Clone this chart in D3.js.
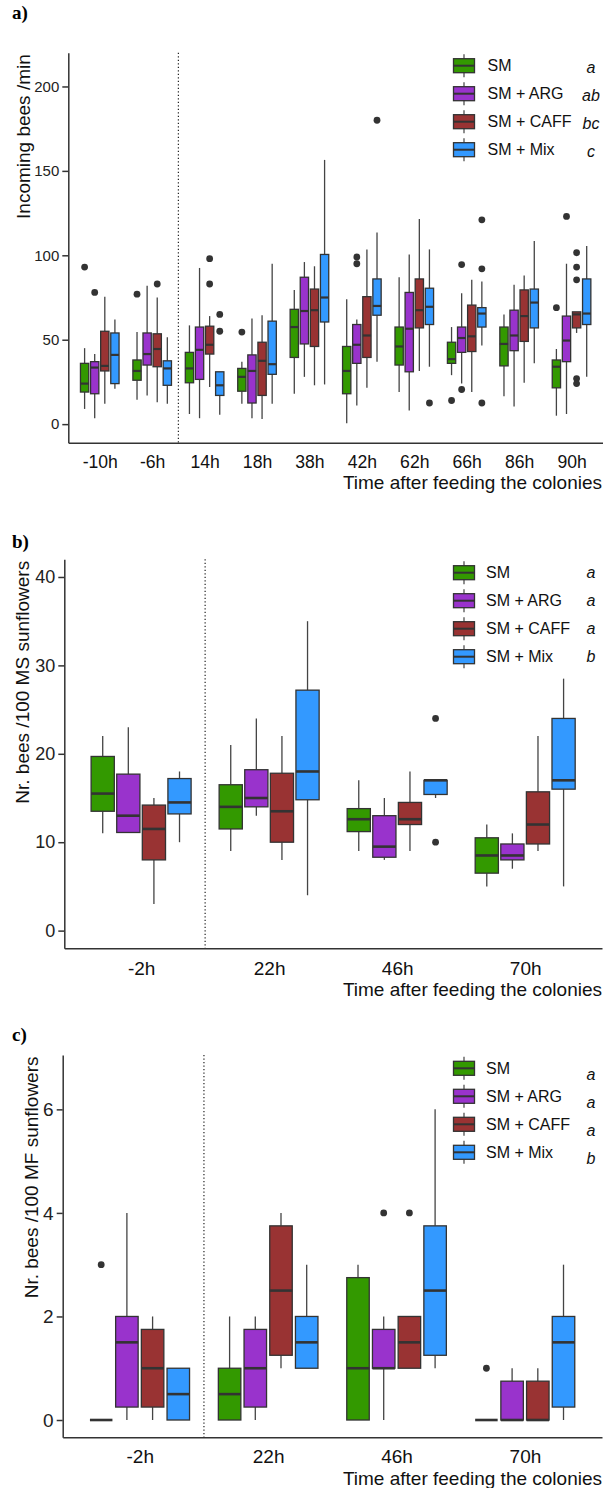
<!DOCTYPE html>
<html>
<head>
<meta charset="utf-8">
<script src="https://cdn.jsdelivr.net/npm/d3@7"></script>
<style>
  body { margin: 0; background: #fff; }
  svg { display: block; font-family: "Liberation Sans", Arial, sans-serif; }
</style>
</head>
<body>
<svg id="fig" width="603" height="1488"></svg>
<script>
var groups = ["SM", "SM + ARG", "SM + CAFF", "SM + Mix"];
var colors = ["#339900", "#9933cc", "#993333", "#3399ff"];

// every box is [low whisker, q1, median, q3, high whisker]
// a) incoming bees /min
var timesA = ["-10h", "-6h", "14h", "18h", "38h", "42h", "62h", "66h", "86h", "90h"];
var lettersA = ["a", "ab", "bc", "c"];
var boxA_SM   = [[9,19,24,36,45], [14.5,26,31.5,38,54.5], [6,24.5,33,42.5,58.5], [12,19.5,28,33,37], [18,39.5,57.5,68,79.5],
                 [0.5,18,31.5,46,74], [19,35,46,57.5,87], [29,36,38.5,48.5,57.5], [16.5,34.5,47.5,57.5,65], [5,21.5,34,38,44.5]];
var boxA_ARG  = [[3.5,18,33.5,37,41.5], [17,35,41.5,54,82], [3.5,26.5,44,57.5,92.5], [3.5,12.5,31.5,41,62.5], [28,47.5,67,87,96],
                 [11,36,47,59,62], [8,31,56.5,78,100.5], [24,42.5,51,57.5,77.5], [10.5,43.5,52.5,67.5,82.5], [6,37,49.5,64,95]];
var boxA_CAFF = [[12,31.5,34.5,55,75.5], [13,34,44.5,53.5,75], [22,41.5,47,58,64], [3,17,37.5,48.5,64.5], [23,46,67.5,80,93.5],
                 [21.5,39.5,52.5,75.5,103.5], [31.5,57,67.5,86,121.5], [19,43,52,70.5,85.5], [24.5,49,64,79.5,88], [54,57,65,66.5,66.5]];
var boxA_Mix  = [[21,24,41,54,62], [12,23,33,37.5,51.5], [5.5,17,23,31,31], [12,29.5,35.5,61,95], [23.5,60.5,75,100.5,156.5],
                 [37,64.5,70,86,113.5], [34,59,69.5,80.5,103.5], [46.5,57.5,65.5,69,84.5], [36,57,72,80,108.5], [28,59,65.5,86,105.5]];
// outliers: [time, group index, value]
var outA = [["-10h",0,93], ["-10h",1,78], ["-6h",0,77], ["-6h",2,83], ["14h",2,98], ["14h",2,83], ["14h",3,65], ["14h",3,55],
            ["18h",0,54.5], ["42h",1,99], ["42h",1,95], ["42h",3,180], ["62h",3,12.5], ["66h",0,14], ["66h",1,94.5], ["66h",1,20.5],
            ["66h",3,121], ["66h",3,92], ["66h",3,12.5], ["90h",0,69], ["90h",1,123], ["90h",2,101.5], ["90h",2,93], ["90h",2,85.5],
            ["90h",2,27], ["90h",2,24]];

// b) bees per 100 MS sunflowers
var timesB = ["-2h", "22h", "46h", "70h"];
var lettersB = ["a", "a", "a", "b"];
var boxB_SM   = [[11,13.5,15.5,19.7,22], [9,11.5,14,16.5,21], [9,11.2,12.6,13.8,17], [5,6.5,8.5,10.5,12]];
var boxB_ARG  = [[11.1,11.1,13,17.7,23], [13,14,15,18.2,24], [8,8.3,9.5,13,15], [7,8,8.5,9.8,11]];
var boxB_CAFF = [[3,8,11.5,14.2,15], [8,10,13.5,17.8,22], [9,12,12.6,14.5,18], [9,9.8,12,15.7,22]];
var boxB_Mix  = [[10,13.2,14.5,17.2,18], [4,14.8,18,27.2,35], [15,15.4,17,17,17], [5,16,17,24,28.5]];
var outB = [["46h",3,24], ["46h",3,10]];

// c) bees per 100 MF sunflowers
var timesC = ["-2h", "22h", "46h", "70h"];
var lettersC = ["a", "a", "a", "b"];
var boxC_SM   = [[0,0,0,0,0], [0,0,0.5,1,2], [0,0,1,2.75,3], [0,0,0,0,0]];
var boxC_ARG  = [[0,0.25,1.5,2,4], [0,0.25,1,1.75,2], [0,1,1,1.75,2], [0,0,0,0.75,1]];
var boxC_CAFF = [[0,0.25,1,1.75,2], [1,1.25,2.5,3.75,4], [1,1,1.5,2,2], [0,0,0,0.75,1]];
var boxC_Mix  = [[0,0,0.5,1,1], [1,1,1.5,2,3], [1,1.25,2.5,3.75,6], [0,0.25,1.5,2,3]];
var outC = [["-2h",0,3], ["46h",1,4], ["46h",2,4], ["70h",0,1]];

var svg = d3.select("#fig");

function panel(o) {
  var g = svg.append("g");
  var x = d3.scalePoint().domain(o.times).range([o.left, o.right]).padding(0.6);
  var y = d3.scaleLinear().domain(o.ydom).range([o.bottom, o.top]);
  var off = d3.scaleBand().domain(groups).range([-2 * o.pitch, 2 * o.pitch]);
  var cx = function(t, k) { return x(t) + off(groups[k]) + o.pitch / 2; };

  // dotted line between before / after feeding
  var xd = (x(o.times[o.split - 1]) + x(o.times[o.split])) / 2;
  g.append("line")
    .attr("x1", xd).attr("x2", xd).attr("y1", o.top).attr("y2", o.bottom)
    .attr("stroke", "#222").attr("stroke-width", 1.2).attr("stroke-dasharray", "1.2,2.3");

  var rows = [];
  o.boxes.forEach(function(arr, k) {
    arr.forEach(function(b, i) { rows.push({t: o.times[i], k: k, b: b}); });
  });

  var bx = g.selectAll("g.box").data(rows).enter().append("g").attr("class", "box");
  bx.append("line")
    .attr("x1", d => cx(d.t, d.k)).attr("x2", d => cx(d.t, d.k))
    .attr("y1", d => y(d.b[0])).attr("y2", d => y(d.b[1]))
    .attr("stroke", "#444").attr("stroke-width", 1.3);
  bx.append("line")
    .attr("x1", d => cx(d.t, d.k)).attr("x2", d => cx(d.t, d.k))
    .attr("y1", d => y(d.b[3])).attr("y2", d => y(d.b[4]))
    .attr("stroke", "#444").attr("stroke-width", 1.3);
  bx.append("rect")
    .attr("x", d => cx(d.t, d.k) - o.bw / 2).attr("width", o.bw)
    .attr("y", d => y(d.b[3])).attr("height", d => y(d.b[1]) - y(d.b[3]))
    .attr("fill", d => colors[d.k]).attr("stroke", "#333").attr("stroke-width", 1.3);
  bx.append("line")
    .attr("x1", d => cx(d.t, d.k) - o.bw / 2).attr("x2", d => cx(d.t, d.k) + o.bw / 2)
    .attr("y1", d => y(d.b[2])).attr("y2", d => y(d.b[2]))
    .attr("stroke", "#333").attr("stroke-width", o.medw);

  g.selectAll("circle.out").data(o.outs).enter().append("circle")
    .attr("cx", d => cx(d[0], d[1])).attr("cy", d => y(d[2]))
    .attr("r", 3.4).attr("fill", "#333");

  // axes
  var ya = g.append("g").attr("transform", "translate(" + o.left + ",0)")
    .call(d3.axisLeft(y).tickValues(o.ticks).tickSize(6).tickSizeOuter(0).tickPadding(3));
  ya.selectAll("text").style("font-size", o.yfs + "px").attr("fill", "#222");
  var xa = g.append("g").attr("transform", "translate(0," + o.bottom + ")")
    .call(d3.axisBottom(x).tickSize(0).tickSizeOuter(0).tickPadding(o.xpad));
  xa.selectAll("text").style("font-size", o.xfs + "px").attr("fill", "#111");
  g.selectAll(".domain, .tick line").attr("stroke", "#333").attr("stroke-width", 1.5);
  g.selectAll(".tick text").style("font-family", "'Liberation Sans', Arial, sans-serif");

  g.append("text")
    .attr("x", 602).attr("y", o.xtitleY).attr("text-anchor", "end")
    .style("font-size", "19px").attr("fill", "#111")
    .text("Time after feeding the colonies");
  g.append("text")
    .attr("transform", "translate(" + o.ytitleX + "," + (o.top + 1.5) + ") rotate(-90)")
    .attr("text-anchor", "end")
    .style("font-size", "19px").attr("fill", "#111")
    .text(o.ytitle);

  g.append("text")
    .attr("x", 12).attr("y", o.labY)
    .style("font-family", "'Liberation Serif', 'Times New Roman', serif")
    .style("font-weight", "bold").style("font-size", "19px")
    .text(o.label);

  // legend
  var lg = g.selectAll("g.key").data(groups).enter().append("g").attr("class", "key")
    .attr("transform", (d, k) => "translate(0," + (o.legY + k * 28) + ")");
  lg.append("line").attr("x1", 464).attr("x2", 464).attr("y1", -11.5).attr("y2", 11.5)
    .attr("stroke", "#444").attr("stroke-width", 1.2);
  lg.append("rect").attr("x", 453.5).attr("y", -7).attr("width", 21).attr("height", 14)
    .attr("fill", (d, k) => colors[k]).attr("stroke", "#333").attr("stroke-width", 1.3);
  lg.append("line").attr("x1", 453.5).attr("x2", 474.5).attr("y1", 0).attr("y2", 0)
    .attr("stroke", "#333").attr("stroke-width", 2);
  lg.append("text").attr("x", o.legTextX).attr("y", 0).attr("dy", "0.36em")
    .style("font-size", "16px").attr("fill", "#111").text(d => d);
  lg.append("text").attr("x", 591).attr("y", o.letterDy).attr("dy", "0.36em")
    .attr("text-anchor", "middle")
    .style("font-size", "16px").style("font-style", "italic").attr("fill", "#111")
    .text((d, k) => o.letters[k]);
}

panel({
  times: timesA, boxes: [boxA_SM, boxA_ARG, boxA_CAFF, boxA_Mix], outs: outA, letters: lettersA,
  left: 68.3, right: 603, top: 52.7, bottom: 442.7, ydom: [-11, 220], ticks: [0, 50, 100, 150, 200],
  pitch: 10.1, bw: 8.3, medw: 2.2, split: 2, yfs: 15, xfs: 17.6, xpad: 13, xtitleY: 488.5,
  ytitle: "Incoming bees /min", ytitleX: 29.5, label: "a)", labY: 19,
  legY: 65.7, legTextX: 487.5, letterDy: 1.5
});
panel({
  times: timesB, boxes: [boxB_SM, boxB_ARG, boxB_CAFF, boxB_Mix], outs: outB, letters: lettersB,
  left: 64.3, right: 602, top: 559.3, bottom: 948.3, ydom: [-2, 42], ticks: [0, 10, 20, 30, 40],
  pitch: 25.6, bw: 23.2, medw: 2.6, split: 1, yfs: 18, xfs: 19, xpad: 13.2, xtitleY: 995.5,
  ytitle: "Nr. bees /100 MS sunflowers", ytitleX: 29, label: "b)", labY: 548,
  legY: 572.7, legTextX: 486, letterDy: 0
});
panel({
  times: timesC, boxes: [boxC_SM, boxC_ARG, boxC_CAFF, boxC_Mix], outs: outC, letters: lettersC,
  left: 62.7, right: 602, top: 1055, bottom: 1437.3, ydom: [-0.334, 7.05], ticks: [0, 2, 4, 6],
  pitch: 25.7, bw: 22.5, medw: 2.6, split: 1, yfs: 19, xfs: 19, xpad: 12.4, xtitleY: 1485,
  ytitle: "Nr. bees /100 MF sunflowers", ytitleX: 38, label: "c)", labY: 1041,
  legY: 1068.3, legTextX: 486, letterDy: 6
});
</script>
</body>
</html>
